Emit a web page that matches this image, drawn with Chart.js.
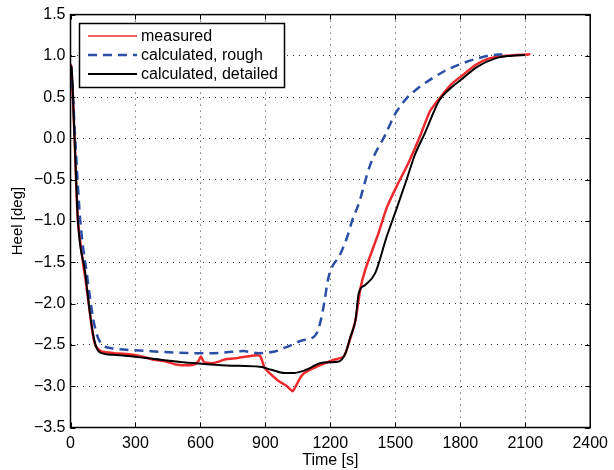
<!DOCTYPE html>
<html>
<head>
<meta charset="utf-8">
<script src="https://cdn.jsdelivr.net/npm/chart.js@4/dist/chart.umd.min.js"></script>
<style>
  html, body { margin: 0; padding: 0; background: #fff; }
  #wrap { width: 614px; height: 470px; }
</style>
</head>
<body>
<div id="wrap"><canvas id="heelCanvas" width="614" height="470"></canvas></div>
<script>
// values
const seriesNames = ["measured", "calculated, rough", "calculated, detailed"];

const measuredT = [0, 4, 19, 34, 60, 68, 90, 105, 118, 143, 200, 264, 330, 386, 440, 493, 569, 590, 602, 618, 660, 721, 770, 813, 874, 897, 958, 1000, 1026, 1050, 1064, 1080, 1140, 1217, 1262, 1285, 1316, 1339, 1361, 1422, 1460, 1506, 1560, 1613, 1660, 1704, 1760, 1811, 1870, 1933, 2000, 2060, 2123];
const measuredHeel = [0.9, 0.87, 0.0, -0.99, -1.55, -1.68, -2.12, -2.4, -2.52, -2.58, -2.6, -2.61, -2.64, -2.68, -2.7, -2.74, -2.74, -2.7, -2.64, -2.71, -2.72, -2.67, -2.66, -2.64, -2.63, -2.78, -2.93, -3.0, -3.06, -2.95, -2.885, -2.84, -2.76, -2.68, -2.64, -2.48, -2.2, -1.815, -1.59, -1.15, -0.84, -0.58, -0.3, 0.02, 0.33, 0.485, 0.66, 0.768, 0.89, 0.97, 1.0, 1.01, 1.02];

const roughT = [0, 5, 22, 45, 75, 106, 125, 136, 160, 190, 341, 493, 645, 720, 798, 866, 943, 1003, 1064, 1125, 1140, 1156, 1171, 1190, 1209, 1240, 1278, 1300, 1331, 1384, 1453, 1500, 1552, 1600, 1658, 1730, 1811, 1880, 1948, 1994];
const roughHeel = [0.88, 0.8, -0.02, -0.99, -1.63, -2.2, -2.4, -2.46, -2.52, -2.54, -2.57, -2.595, -2.6, -2.59, -2.575, -2.6, -2.58, -2.52, -2.45, -2.4, -2.34, -2.2, -2.0, -1.7, -1.55, -1.43, -1.19, -1.0, -0.79, -0.32, 0.041, 0.3, 0.485, 0.6, 0.707, 0.82, 0.91, 0.97, 1.01, 1.018];

const detailedT = [0, 4, 19, 34, 68, 90, 105, 118, 143, 200, 264, 417, 569, 721, 874, 927, 988, 1030, 1080, 1156, 1200, 1240, 1270, 1293, 1316, 1331, 1361, 1407, 1460, 1506, 1552, 1590, 1636, 1704, 1760, 1811, 1880, 1962, 2030, 2099];
const detailedHeel = [0.88, 0.87, -0.02, -0.99, -1.63, -2.12, -2.38, -2.52, -2.6, -2.62, -2.635, -2.68, -2.72, -2.75, -2.765, -2.8, -2.84, -2.84, -2.81, -2.72, -2.71, -2.7, -2.6, -2.4, -2.2, -1.875, -1.775, -1.63, -1.19, -0.85, -0.5, -0.2, 0.062, 0.465, 0.62, 0.728, 0.87, 0.97, 1.0, 1.01];

const xTicks = [0, 300, 600, 900, 1200, 1500, 1800, 2100, 2400];
const yTicks = [1.5, 1.0, 0.5, 0, -0.5, -1.0, -1.5, -2.0, -2.5, -3.0, -3.5];

const lineColors = ["#ee2a2e", "#2b4ea6", "#000000"];
const FONT = "'Liberation Sans', Arial, Helvetica, sans-serif";

function toPoints(ts, vs) {
  return ts.map(function (t, i) { return { x: t, y: vs[i] }; });
}

function fmtMinus(v, digits) {
  var s = Number(v).toFixed(digits);
  return s.replace('-', '\u2212');
}

// frame, inward ticks and the boxed legend, matlab style
const matlabFrame = {
  id: 'matlabFrame',
  afterDraw: function (chart) {
    const ctx = chart.ctx;
    const a = chart.chartArea;
    const xs = chart.scales.x, ys = chart.scales.y;
    ctx.save();
    ctx.strokeStyle = '#000';
    ctx.lineWidth = 1.5;
    ctx.strokeRect(a.left, a.top, a.right - a.left, a.bottom - a.top);
    ctx.lineWidth = 1;
    xTicks.forEach(function (t) {
      const px = Math.round(xs.getPixelForValue(t)) + 0.5;
      ctx.beginPath();
      ctx.moveTo(px, a.bottom); ctx.lineTo(px, a.bottom - 5);
      ctx.moveTo(px, a.top); ctx.lineTo(px, a.top + 5);
      ctx.stroke();
    });
    yTicks.forEach(function (v) {
      const py = Math.round(ys.getPixelForValue(v)) + 0.5;
      ctx.beginPath();
      ctx.moveTo(a.left, py); ctx.lineTo(a.left + 5, py);
      ctx.moveTo(a.right, py); ctx.lineTo(a.right - 5, py);
      ctx.stroke();
    });

    // legend box
    const bx = 79, by = 23, bw = 205, bh = 64;
    ctx.fillStyle = '#fff';
    ctx.fillRect(bx, by, bw, bh);
    ctx.strokeStyle = '#000';
    ctx.lineWidth = 1.5;
    ctx.strokeRect(bx + 0.5, by + 0.5, bw, bh);
    const rows = [36, 55, 74];
    ctx.font = '16px ' + FONT;
    ctx.textBaseline = 'middle';
    ctx.textAlign = 'left';
    seriesNames.forEach(function (name, i) {
      ctx.save();
      ctx.strokeStyle = lineColors[i];
      ctx.lineWidth = i === 1 ? 2.5 : (i === 0 ? 1.5 : 2);
      if (i === 1) ctx.setLineDash([9, 6]);
      ctx.beginPath();
      ctx.moveTo(88, rows[i]); ctx.lineTo(137, rows[i]);
      ctx.stroke();
      ctx.restore();
      ctx.fillStyle = '#000';
      ctx.fillText(name, 141, rows[i] + 1);
    });
    ctx.restore();
  }
};

new Chart(document.getElementById('heelCanvas'), {
  type: 'line',
  data: {
    datasets: [
      {
        label: seriesNames[0],
        data: toPoints(measuredT, measuredHeel),
        borderColor: lineColors[0],
        borderWidth: 2.5,
        pointRadius: 0,
        tension: 0.2,
        order: 3
      },
      {
        label: seriesNames[1],
        data: toPoints(roughT, roughHeel),
        borderColor: lineColors[1],
        borderWidth: 2.5,
        borderDash: [9, 6],
        pointRadius: 0,
        cubicInterpolationMode: 'monotone',
        order: 2
      },
      {
        label: seriesNames[2],
        data: toPoints(detailedT, detailedHeel),
        borderColor: lineColors[2],
        borderWidth: 2,
        pointRadius: 0,
        cubicInterpolationMode: 'monotone',
        order: 1
      }
    ]
  },
  options: {
    responsive: false,
    animation: false,
    layout: { padding: { left: 0, right: 18, top: 14, bottom: 0 } },
    plugins: {
      legend: { display: false },
      tooltip: { enabled: false }
    },
    scales: {
      x: {
        type: 'linear',
        min: 0, max: 2400,
        afterBuildTicks: function (s) { s.ticks = xTicks.map(function (v) { return { value: v }; }); },
        afterFit: function (s) { s.height = 42.5; },
        ticks: {
          color: '#000', font: { size: 16, family: FONT }, padding: 6,
          maxRotation: 0,
          callback: function (v) { return String(v); }
        },
        grid: { color: '#333', lineWidth: 1, drawTicks: false },
        border: { display: false, dash: [1, 5] },
        title: {
          display: true, text: 'Time [s]', color: '#000',
          font: { size: 16, family: FONT }, padding: { top: 0, bottom: 0 }
        }
      },
      y: {
        type: 'linear',
        min: -3.5, max: 1.5,
        afterBuildTicks: function (s) { s.ticks = yTicks.map(function (v) { return { value: v }; }); },
        afterFit: function (s) { s.width = 70.5; },
        ticks: {
          color: '#000', font: { size: 16, family: FONT }, padding: 5,
          callback: function (v) { return fmtMinus(v, 1); }
        },
        grid: { color: '#333', lineWidth: 1, drawTicks: false },
        border: { display: false, dash: [1, 5] },
        title: {
          display: true, text: 'Heel [deg]', color: '#000',
          font: { size: 15, family: FONT }, padding: { top: 9, bottom: 0 }
        }
      }
    }
  },
  plugins: [matlabFrame]
});
</script>
</body>
</html>
